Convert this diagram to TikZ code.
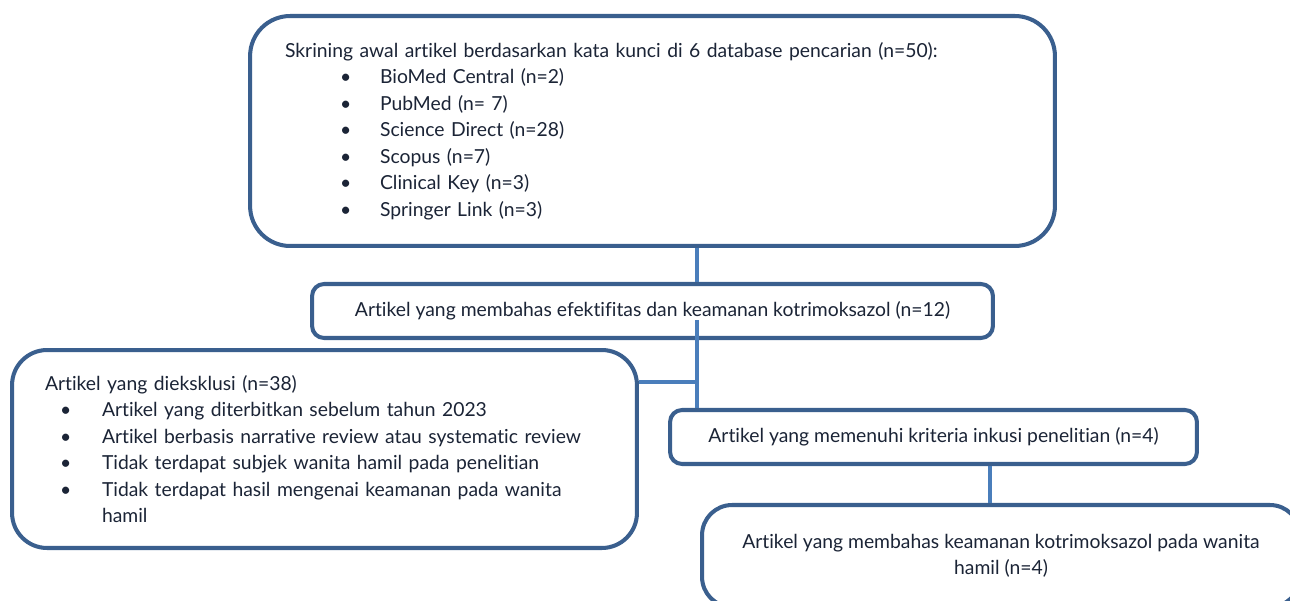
\documentclass[tikz,border=0pt]{standalone}
\usepackage{fontspec}
\setmainfont{Lato}[Ligatures=NoCommon]
\usetikzlibrary{positioning}
\definecolor{frame}{HTML}{3A5F8E}
\definecolor{link}{HTML}{4A7EBB}
\definecolor{ink}{HTML}{1B2436}
\newcommand{\bul}[3]{\hspace*{#1}\makebox[#2][l]{\textbullet}#3}
\tikzset{
  box/.style={draw=frame,line width=2.3pt,fill=white,inner ysep=0pt,align=left},
  conn/.style={draw=link,line width=2.5pt}}

\begin{document}
\begin{tikzpicture}[x=0.02cm,y=-0.02cm,font=\fontsize{11}{15.1}\selectfont,text=ink]
\useasboundingbox (0,0) rectangle (1290,601);
\clip (0,0) rectangle (1290,601);
\node[box,rounded corners=0.8cm,minimum height=4.6cm,inner xsep=0.7cm,text width=14.7cm] (search) at (652.5,131) {Skrining awal artikel berdasarkan kata kunci di 6 database pencarian (n=50):\\
\bul{1.1cm}{0.8cm}{BioMed Central (n=2)}\\
\bul{1.1cm}{0.8cm}{PubMed (n= 7)}\\
\bul{1.1cm}{0.8cm}{Science Direct (n=28)}\\
\bul{1.1cm}{0.8cm}{Scopus (n=7)}\\
\bul{1.1cm}{0.8cm}{Clinical Key (n=3)}\\
\bul{1.1cm}{0.8cm}{Springer Link (n=3)}};
\node[box,rounded corners=0.24cm,minimum width=13.62cm,minimum height=1.08cm,align=center] (screen) at (652.5,311) {Artikel yang membahas efektifitas dan keamanan kotrimoksazol (n=12)};
\node[box,rounded corners=0.7cm,minimum height=3.96cm,inner xsep=0.66cm,text width=11.18cm] (excluded) at (324.5,449) {Artikel yang dieksklusi (n=38)\\
\bul{0.3cm}{0.84cm}{Artikel yang diterbitkan sebelum tahun 2023}\\
\bul{0.3cm}{0.84cm}{Artikel berbasis narrative review atau systematic review}\\
\bul{0.3cm}{0.84cm}{Tidak terdapat subjek wanita hamil pada penelitian}\\
\bul{0.3cm}{0.84cm}{Tidak terdapat hasil mengenai keamanan pada wanita}\\
\hspace*{1.14cm}hamil};
\node[box,rounded corners=0.24cm,minimum width=10.54cm,minimum height=1.08cm,align=center] (eligible) at (933.5,437) {Artikel yang memenuhi kriteria inkusi penelitian (n=4)};
\node[box,rounded corners=0.6cm,minimum width=11.96cm,minimum height=2.04cm,align=center] (final) at (1001,556) {Artikel yang membahas keamanan kotrimoksazol pada wanita\\hamil (n=4)};
\coordinate (j1) at (697,320);
\coordinate (j2) at (697,382);
\coordinate (j3) at (990,464);
\draw[conn] (search.south -| j1) -- (screen.north -| j1);
\draw[conn] (j1) -- (eligible.north -| j1);
\draw[conn] (excluded.east |- j2) -- (j2);
\draw[conn] (eligible.south -| j3) -- (final.north -| j3);
\end{tikzpicture}
\end{document}
